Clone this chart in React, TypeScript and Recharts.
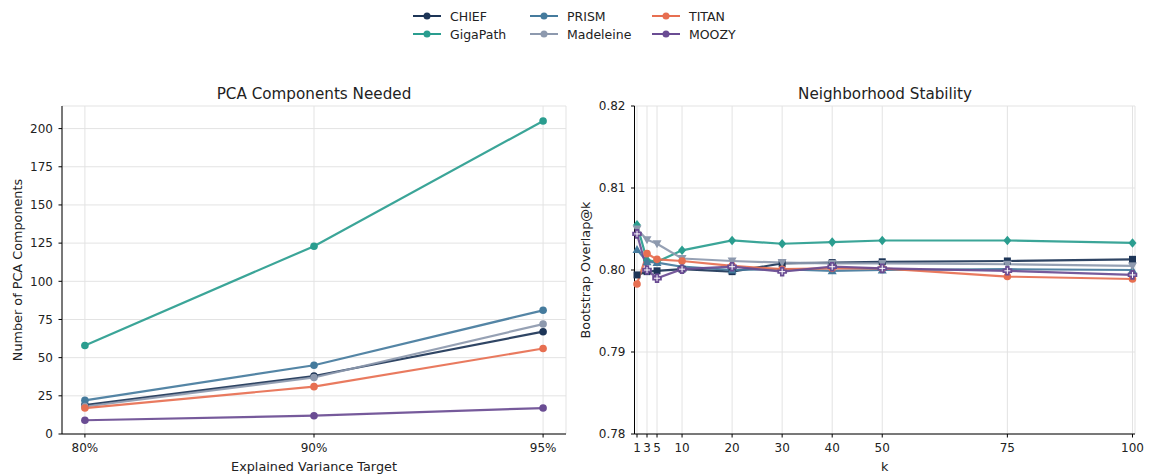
import { LineChart, Line, XAxis, YAxis, CartesianGrid } from 'recharts'

const FONT = '"DejaVu Sans", sans-serif'

const MODELS = ['CHIEF', 'GigaPath', 'PRISM', 'Madeleine', 'TITAN', 'MOOZY']

const COLORS: Record<string, string> = {
  CHIEF: '#1d3557',
  GigaPath: '#2a9d8f',
  PRISM: '#457b9d',
  Madeleine: '#8d99ae',
  TITAN: '#e76f51',
  MOOZY: '#6a4c93',
}

// marker used in the neighborhood panel
const SHAPES: Record<string, string> = {
  CHIEF: 'square',
  GigaPath: 'diamond',
  PRISM: 'triUp',
  Madeleine: 'triDown',
  TITAN: 'circle',
  MOOZY: 'plus',
}

// PCA components needed
const varianceTargets = ['80%', '90%', '95%']
const pcaCHIEF = [19, 38, 67]
const pcaGigaPath = [58, 123, 205]
const pcaPRISM = [22, 45, 81]
const pcaMadeleine = [18, 37, 72]
const pcaTITAN = [17, 31, 56]
const pcaMOOZY = [9, 12, 17]
const pcaTicks = [0, 25, 50, 75, 100, 125, 150, 175, 200]

// neighborhood stability
const kValues = [1, 3, 5, 10, 20, 30, 40, 50, 75, 100]
const overlapCHIEF = [0.7994, 0.7998, 0.7999, 0.8001, 0.7998, 0.8008, 0.8009, 0.801, 0.8011, 0.8013]
const overlapGigaPath = [0.8055, 0.8012, 0.801, 0.8024, 0.8036, 0.8032, 0.8034, 0.8036, 0.8036, 0.8033]
const overlapPRISM = [0.8025, 0.801, 0.8009, 0.8004, 0.8, 0.8001, 0.7999, 0.8, 0.8001, 0.8]
const overlapMadeleine = [0.805, 0.8037, 0.8032, 0.8014, 0.8011, 0.8009, 0.8008, 0.8008, 0.8007, 0.8005]
const overlapTITAN = [0.7983, 0.802, 0.8013, 0.8011, 0.8005, 0.8001, 0.8002, 0.8002, 0.7992, 0.7989]
const overlapMOOZY = [0.8044, 0.8, 0.799, 0.8001, 0.8004, 0.7998, 0.8004, 0.8002, 0.7999, 0.7994]
const overlapTicks = [0.78, 0.79, 0.8, 0.81, 0.82]

const pcaSeries: Record<string, number[]> = {
  CHIEF: pcaCHIEF,
  GigaPath: pcaGigaPath,
  PRISM: pcaPRISM,
  Madeleine: pcaMadeleine,
  TITAN: pcaTITAN,
  MOOZY: pcaMOOZY,
}

const overlapSeries: Record<string, number[]> = {
  CHIEF: overlapCHIEF,
  GigaPath: overlapGigaPath,
  PRISM: overlapPRISM,
  Madeleine: overlapMadeleine,
  TITAN: overlapTITAN,
  MOOZY: overlapMOOZY,
}

const pcaData = varianceTargets.map((_, i) => {
  const row: Record<string, number> = { x: i }
  MODELS.forEach((m) => (row[m] = pcaSeries[m][i]))
  return row
})

const overlapData = kValues.map((k, i) => {
  const row: Record<string, number> = { k }
  MODELS.forEach((m) => (row[m] = overlapSeries[m][i]))
  return row
})

const tickStyle = { fontFamily: FONT, fontSize: 12, fill: '#222' }
const labelStyle = { fontFamily: FONT, fontSize: 12.8, fill: '#222' }
const GRID = '#e3e3e3'

function marker(shape: string, color: string) {
  return (props: any) => {
    const { cx, cy, index } = props
    if (cx == null || cy == null) return <g key={index} />
    const s = 4
    let el
    if (shape === 'square') {
      el = <rect x={cx - 3.5} y={cy - 3.5} width={7} height={7} fill={color} />
    } else if (shape === 'diamond') {
      el = <polygon points={`${cx},${cy - s - 0.8} ${cx + s},${cy} ${cx},${cy + s + 0.8} ${cx - s},${cy}`} fill={color} />
    } else if (shape === 'triUp') {
      el = <polygon points={`${cx},${cy - s - 0.5} ${cx + s + 0.5},${cy + s - 0.5} ${cx - s - 0.5},${cy + s - 0.5}`} fill={color} />
    } else if (shape === 'triDown') {
      el = <polygon points={`${cx},${cy + s + 0.5} ${cx + s + 0.5},${cy - s + 0.5} ${cx - s - 0.5},${cy - s + 0.5}`} fill={color} />
    } else if (shape === 'plus') {
      const a = 2.2
      const b = 4.8
      el = (
        <g>
          <path
            d={`M${cx - a},${cy - b}H${cx + a}V${cy - a}H${cx + b}V${cy + a}H${cx + a}V${cy + b}H${cx - a}V${cy + a}H${cx - b}V${cy - a}H${cx - a}Z`}
            fill={color}
          />
          <path d={`M${cx - 3},${cy}H${cx + 3}M${cx},${cy - 3}V${cy + 3}`} stroke="#fff" strokeWidth={1} />
        </g>
      )
    } else {
      el = <circle cx={cx} cy={cy} r={3.8} fill={color} />
    }
    return <g key={index}>{el}</g>
  }
}

function Legend() {
  const cols = [413, 530, 652]
  return (
    <>
      {MODELS.map((m, i) => {
        const col = Math.floor(i / 2)
        const row = i % 2
        return (
          <div
            key={m}
            style={{
              position: 'absolute',
              left: cols[col],
              top: 16 + row * 18 - 9,
              height: 18,
              display: 'flex',
              alignItems: 'center',
              fontFamily: FONT,
              fontSize: 12.5,
              color: '#222',
              whiteSpace: 'nowrap',
            }}
          >
            <svg width={28} height={10} style={{ marginRight: 9 }}>
              <line x1={0} y1={5} x2={28} y2={5} stroke={COLORS[m]} strokeWidth={2} />
              <circle cx={14} cy={5} r={3.5} fill={COLORS[m]} />
            </svg>
            {m}
          </div>
        )
      })}
    </>
  )
}

function Title({ text, cx }: { text: string; cx: number }) {
  return (
    <div
      style={{
        position: 'absolute',
        left: cx - 150,
        width: 300,
        top: 85,
        textAlign: 'center',
        fontFamily: FONT,
        fontSize: 15.2,
        color: '#222',
      }}
    >
      {text}
    </div>
  )
}

function yLabel(text: string, x: number) {
  return (props: any) => {
    const vb = props.viewBox || {}
    const cy = (vb.y ?? 0) + (vb.height ?? 0) / 2
    return (
      <text
        x={x}
        y={cy}
        transform={`rotate(-90 ${x} ${cy})`}
        textAnchor="middle"
        dominantBaseline="central"
        style={labelStyle}
      >
        {text}
      </text>
    )
  }
}

export default function App() {
  return (
    <div style={{ position: 'absolute', left: 0, top: 0, width: 1153, height: 476, background: '#fff' }}>
      <Legend />
      <Title text="PCA Components Needed" cx={314} />
      <Title text="Neighborhood Stability" cx={885} />

      <div style={{ position: 'absolute', left: 0, top: 0 }}>
        <LineChart width={580} height={476} data={pcaData} margin={{ top: 106, right: 14, bottom: 0, left: 0 }}>
          <CartesianGrid stroke={GRID} strokeWidth={1} />
          <XAxis
            dataKey="x"
            type="number"
            domain={[-0.1, 2.1]}
            ticks={[0, 1, 2]}
            tickFormatter={(v: number) => varianceTargets[v]}
            height={42}
            tickSize={3.5}
            tickMargin={5.5}
            stroke="#000"
            tick={tickStyle}
            label={{ value: 'Explained Variance Target', position: 'insideBottom', offset: 5, style: labelStyle }}
          />
          <YAxis
            type="number"
            domain={[0, 214.8]}
            ticks={pcaTicks}
            width={62}
            tickSize={3.5}
            tickMargin={5.5}
            stroke="#000"
            tick={tickStyle}
            label={yLabel('Number of PCA Components', 17)}
          />
          {MODELS.map((m) => (
            <Line
              key={m}
              dataKey={m}
              stroke={COLORS[m]}
              strokeWidth={2.2}
              strokeOpacity={0.92}
              dot={marker('circle', COLORS[m])}
              activeDot={false}
              isAnimationActive={false}
            />
          ))}
        </LineChart>
      </div>

      <div style={{ position: 'absolute', left: 565, top: 0 }}>
        <LineChart width={588} height={476} data={overlapData} margin={{ top: 106, right: 18, bottom: 0, left: 0 }}>
          <CartesianGrid stroke={GRID} strokeWidth={1} />
          <XAxis
            dataKey="k"
            type="number"
            domain={[0.5, 100.5]}
            ticks={kValues}
            interval={0}
            height={42}
            tickSize={3.5}
            tickMargin={5.5}
            stroke="#000"
            tick={tickStyle}
            label={{ value: 'k', position: 'insideBottom', offset: 5, style: labelStyle }}
          />
          <YAxis
            type="number"
            domain={[0.78, 0.82]}
            ticks={overlapTicks}
            tickFormatter={(v: number) => v.toFixed(2)}
            allowDataOverflow
            width={69.5}
            tickSize={3.5}
            tickMargin={5.5}
            stroke="#000"
            tick={tickStyle}
            label={yLabel('Bootstrap Overlap@k', 20)}
          />
          {MODELS.map((m) => (
            <Line
              key={m}
              dataKey={m}
              stroke={COLORS[m]}
              strokeWidth={2.2}
              strokeOpacity={0.92}
              dot={marker(SHAPES[m], COLORS[m])}
              activeDot={false}
              isAnimationActive={false}
            />
          ))}
        </LineChart>
      </div>
    </div>
  )
}
